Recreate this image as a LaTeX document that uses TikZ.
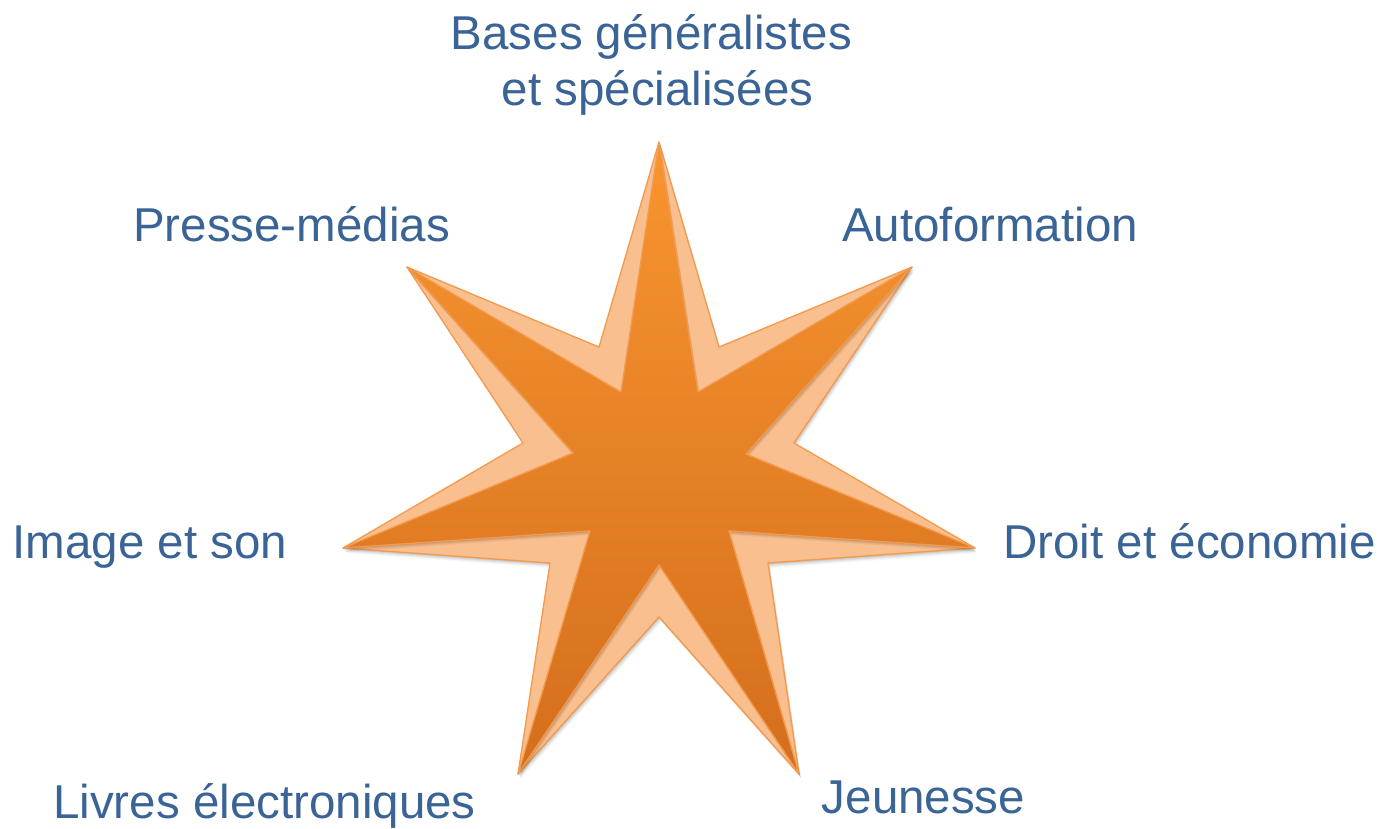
\documentclass[tikz,border=0pt]{standalone}
\usepackage{fontspec}
\setmainfont{Liberation Sans}
\definecolor{textblue}{HTML}{3A6396}
\definecolor{starTop}{HTML}{F8952F}
\definecolor{starBot}{HTML}{D46E1D}
\definecolor{bevel}{HTML}{F9BF8E}
\definecolor{edge}{HTML}{F39A4C}
\begin{document}
\begin{tikzpicture}[x=1pt,y=-1pt,
  lbltext/.style={text=textblue, inner sep=0pt, anchor=base, font=\fontsize{47.5}{55}\selectfont},
  outerstar/.style={insert path={(659,142) -- (719,347) -- (912,267) -- (794,443) -- (975,548) -- (768,563) -- (799,774) -- (659,617) -- (518,774) -- (550,563) -- (343,548) -- (523,443) -- (407,267) -- (599,347) -- cycle}},
  innerstar/.style={insert path={(659,142) -- (698,392) -- (912,267) -- (746,454) -- (975,548) -- (729,531) -- (799,774) -- (659,565) -- (518,774) -- (590,531) -- (343,548) -- (573,453) -- (407,267) -- (621,392) -- cycle}},
  starline/.style={draw=edge, line width=1.3pt, line join=round}]
\useasboundingbox (0,0) rectangle (1381,828);
\fill[white] (0,0) rectangle (1381,828);
% soft shadow of the bevel layer
\foreach \s/\o in {5/0.03,4/0.04,3/0.05,2/0.06,1/0.07}{
  \fill[black, opacity=\o, shift={(\s*0.5,\s)}, outerstar];
}
\filldraw[fill=bevel, starline, outerstar];
% soft shadow of the main star onto the bevel
\foreach \s/\o in {4/0.04,3/0.05,2/0.06,1/0.08}{
  \fill[black, opacity=\o, shift={(\s*0.5,\s)}, innerstar];
}
\shadedraw[top color=starTop, bottom color=starBot, starline, innerstar];
% labels
\node[lbltext] (bases1) at (651.5,49) {Bases généralistes};
\node[lbltext] (bases2) at (657.5,105) {et spécialisées};
\node[lbltext] (presse) at (291.5,241) {Presse-médias};
\node[lbltext] (autof) at (990,241) {Autoformation};
\node[lbltext] (image) at (150,558) {Image et son};
\node[lbltext] (droit) at (1189.5,558) {Droit et économie};
\node[lbltext] (livres) at (264.5,818) {Livres électroniques};
\node[lbltext] (jeunesse) at (923.5,813) {Jeunesse};
\end{tikzpicture}
\end{document}
